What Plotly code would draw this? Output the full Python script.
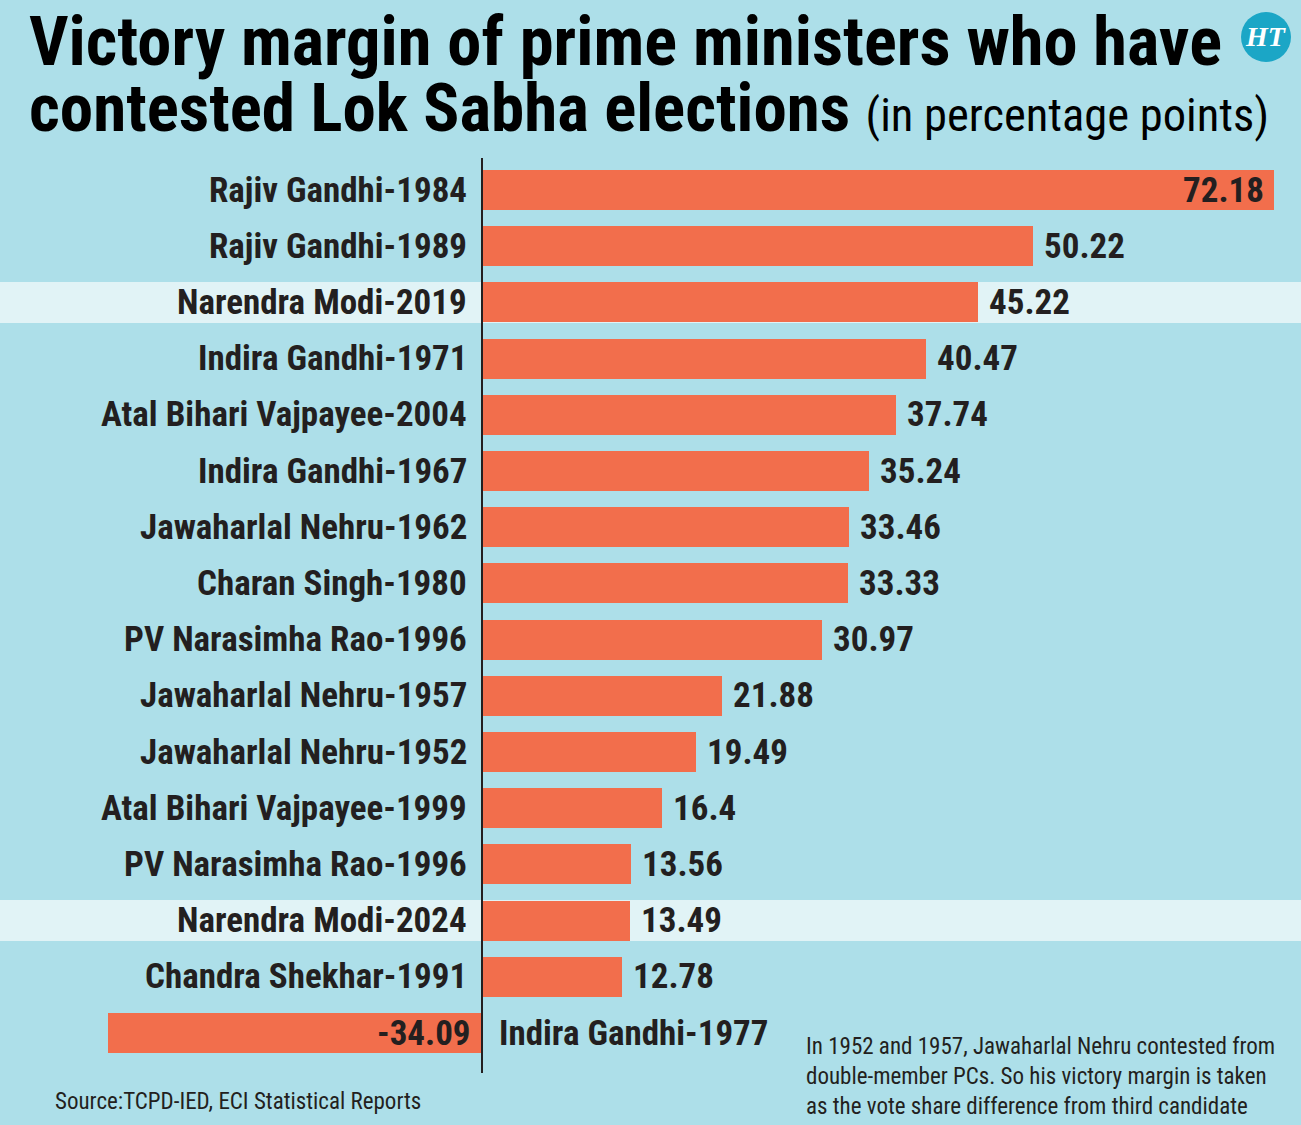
import plotly.graph_objects as go

names = ["Rajiv Gandhi-1984", "Rajiv Gandhi-1989", "Narendra Modi-2019", "Indira Gandhi-1971",
         "Atal Bihari Vajpayee-2004", "Indira Gandhi-1967", "Jawaharlal Nehru-1962", "Charan Singh-1980",
         "PV Narasimha Rao-1996", "Jawaharlal Nehru-1957", "Jawaharlal Nehru-1952",
         "Atal Bihari Vajpayee-1999", "PV Narasimha Rao-1996", "Narendra Modi-2024",
         "Chandra Shekhar-1991", "Indira Gandhi-1977"]
values = [72.18, 50.22, 45.22, 40.47, 37.74, 35.24, 33.46, 33.33, 30.97, 21.88, 19.49, 16.4,
          13.56, 13.49, 12.78, -34.09]
value_labels = ["72.18", "50.22", "45.22", "40.47", "37.74", "35.24", "33.46", "33.33", "30.97",
                "21.88", "19.49", "16.4", "13.56", "13.49", "12.78", "-34.09"]
highlight = ["Narendra Modi-2019", "Narendra Modi-2024"]

BG = "#ADDFE9"
BAR = "#F26E4C"
HL = "#E1F3F6"
TXT = "#231F20"
FONT = "Roboto Condensed"

W, H = 1301, 1125
px_per_unit = (1274 - 482) / 72.18
x0 = -482 / px_per_unit
x1 = (W - 482) / px_per_unit
row = 56.2
y_top = -190 / row
y_bot = (H - 190) / row

idx = list(range(len(names)))
fig = go.Figure()
fig.add_trace(go.Bar(x=values, y=idx, orientation="h", marker=dict(color=BAR, line=dict(width=0)),
                     width=0.71, hoverinfo="skip"))

shapes = []
for i, n in enumerate(names):
    if n in highlight:
        shapes.append(dict(type="rect", xref="paper", yref="y", x0=0, x1=1,
                           y0=i - 0.365, y1=i + 0.365, fillcolor=HL, line=dict(width=0), layer="below"))
shapes.append(dict(type="line", xref="x", yref="y", x0=0, x1=0, y0=-0.57, y1=15.71,
                   line=dict(color=TXT, width=2)))
# HT logo
shapes.append(dict(type="circle", xref="paper", yref="paper",
                   x0=(1266 - 25) / W, x1=(1266 + 25) / W, y0=1 - (37 + 25) / H, y1=1 - (37 - 25) / H,
                   fillcolor="#1BA6C6", line=dict(width=0)))

ann = []
lab_font = dict(family=FONT, size=35, color=TXT)
for i, (n, v, t) in enumerate(zip(names, values, value_labels)):
    if v >= 0:
        ann.append(dict(x=0, y=i, xref="x", yref="y", text="<b>%s</b>" % n, showarrow=False,
                        xanchor="right", xshift=-13, font=lab_font))
        if v > 60:
            ann.append(dict(x=v, y=i, xref="x", yref="y", text="<b>%s</b>" % t, showarrow=False,
                            xanchor="right", xshift=-8, font=lab_font))
        else:
            ann.append(dict(x=v, y=i, xref="x", yref="y", text="<b>%s</b>" % t, showarrow=False,
                            xanchor="left", xshift=9, font=lab_font))
    else:
        ann.append(dict(x=0, y=i, xref="x", yref="y", text="<b>%s</b>" % n, showarrow=False,
                        xanchor="left", xshift=15, font=lab_font))
        ann.append(dict(x=0, y=i, xref="x", yref="y", text="<b>%s</b>" % t, showarrow=False,
                        xanchor="right", xshift=-9, font=lab_font))

ann.append(dict(x=27 / W, y=1 - 41 / H, xref="paper", yref="paper", xanchor="left", yanchor="middle",
                text="<b>Victory margin of prime ministers who have</b>", showarrow=False,
                font=dict(family=FONT, size=68.5, color="#000000")))
ann.append(dict(x=27 / W, y=1 - 108 / H, xref="paper", yref="paper", xanchor="left", yanchor="middle",
                text="<b>contested Lok Sabha elections</b> <span style='font-size:46.5px'>(in percentage points)</span>",
                showarrow=False, font=dict(family=FONT, size=67, color="#000000")))
ann.append(dict(x=1266 / W, y=1 - 37 / H, xref="paper", yref="paper", xanchor="center", yanchor="middle",
                text="<b><i>HT</i></b>", showarrow=False,
                font=dict(family="Liberation Serif", size=28, color="#FFFFFF")))
ann.append(dict(x=53 / W, y=1 - 1101 / H, xref="paper", yref="paper", xanchor="left", yanchor="middle",
                text="Source:TCPD-IED, ECI Statistical Reports", showarrow=False,
                font=dict(family=FONT, size=23, color=TXT)))
ann.append(dict(x=804 / W, y=1 - 1076 / H, xref="paper", yref="paper", xanchor="left", yanchor="middle",
                align="left",
                text="In 1952 and 1957, Jawaharlal Nehru contested from<br>double-member PCs. So his victory margin is taken<br>as the vote share difference from third candidate",
                showarrow=False, font=dict(family=FONT, size=23, color=TXT)))

fig.update_layout(
    width=W, height=H, margin=dict(l=0, r=0, t=0, b=0),
    paper_bgcolor=BG, plot_bgcolor=BG, showlegend=False,
    xaxis=dict(range=[x0, x1], visible=False, fixedrange=True),
    yaxis=dict(range=[y_bot, y_top], visible=False, fixedrange=True),
    shapes=shapes, annotations=ann, bargap=0,
)
fig.write_html("out.html")
